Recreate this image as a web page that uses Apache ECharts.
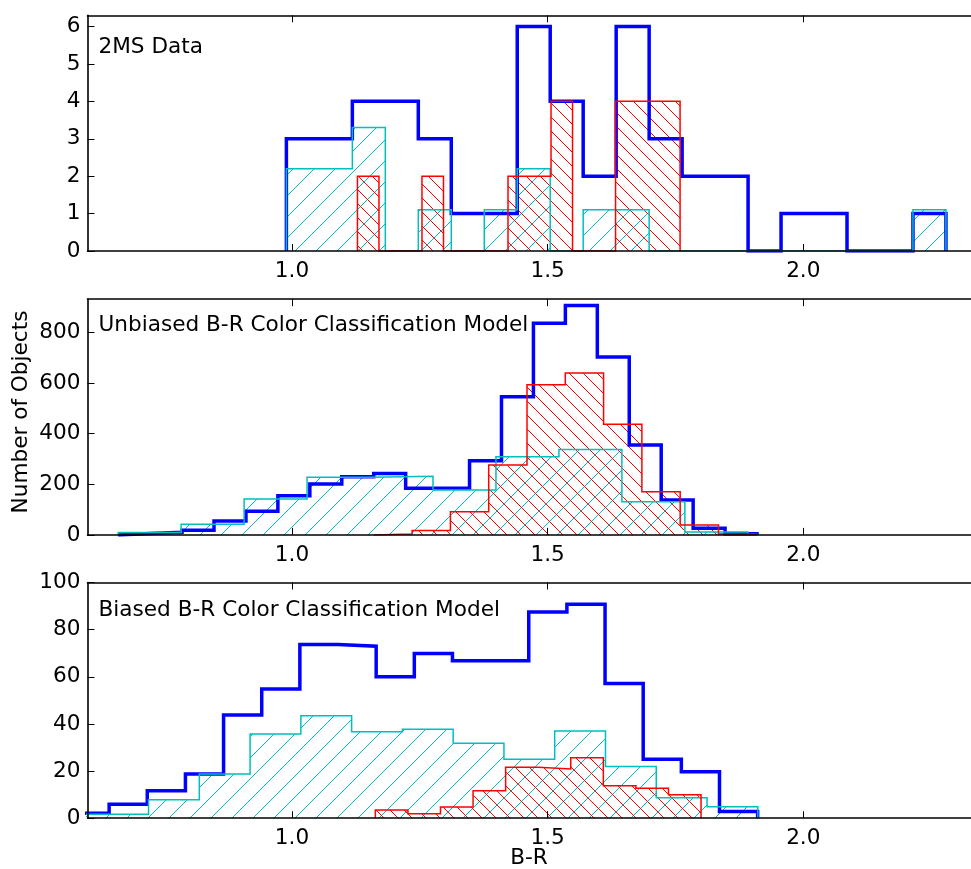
<!DOCTYPE html>
<html><head><meta charset="utf-8">
<script src="https://cdn.jsdelivr.net/npm/echarts@6/dist/echarts.min.js"></script>
<style>html,body{margin:0;padding:0;background:#fff}#c{width:971px;height:869px}</style>
</head><body><div id="c"></div>
<script>
// ---------- data (histogram bin ranges [first edge, last edge] and counts) ----------
// Panel 1: 2MS Data
const p1BlueRange = [0.989, 2.279];
const p1Blue = [3, 3, 4, 4, 3, 1, 1, 6, 4, 2, 6, 3, 2, 2, 0, 1, 1, 0, 0, 1];
const p1CyanRange = [0.989, 2.279];
const p1Cyan = [2.2, 2.2, 3.3, 0, 1.1, 0, 1.1, 2.2, 0, 1.1, 1.1, 0, 0, 0, 0, 0, 0, 0, 0, 1.1];
const p1RedRange = [1.128, 1.759];
const p1Red = [2, 0, 0, 2, 0, 0, 0, 2, 2, 4, 0, 0, 4, 4, 4];

// Panel 2: Unbiased model
const p2BlueRange = [0.660, 1.9095];
const p2Blue = [6, 10, 18, 55, 94, 155, 201, 230, 243, 184, 184, 293, 546, 837, 907, 703, 355, 138, 26, 5];
const p2CyanRange = [0.660, 1.8915];
const p2Cyan = [9, 42, 142, 228, 232, 178, 309, 338, 131, 11];
const p2RedRange = [1.160, 1.909];
const p2Red = [4, 17, 92, 276, 594, 640, 438, 171, 39, 4];

// Panel 3: Biased model
const p3BlueRange = [0.5677, 1.9107];
const p3Blue = [2.1, 5.9, 11.6, 18.7, 43.8, 54.8, 73.7, 73.0, 60.0, 69.9, 66.8, 66.8, 87.5, 90.8, 57.2, 25.0, 19.7, 2.8];
const p3CyanRange = [0.5208, 1.911];
const p3Cyan = [1.7, 1.7, 7.8, 18.7, 35.7, 43.5, 36.7, 37.7, 31.8, 25.0, 37.0, 21.9, 8.7, 4.9];
const p3RedRange = [1.163, 1.800];
const p3Red = [3.5, 1.9, 4.7, 11.6, 21.6, 20.9, 25.7, 13.8, 12.7, 9.9];

// axes
const xRange = [0.6, 2.328];
const xTicks = [1.0, 1.5, 2.0];
const p1YMax = 6.3, p1YTicks = [0, 1, 2, 3, 4, 5, 6];
const p2YMax = 932, p2YTicks = [0, 200, 400, 600, 800];
const p3YMax = 100, p3YTicks = [0, 20, 40, 60, 80, 100];

const panelTitles = ['2MS Data', 'Unbiased B-R Color Classification Model', 'Biased B-R Color Classification Model'];
const yLabel = 'Number of Objects';
const xLabel = 'B-R';

// ---------- helpers ----------
const FONT = "'DejaVu Sans', sans-serif";
const FS = 21.6;
const BLUE = '#0000ff', CYAN = '#00bfbf', RED = '#ff0000';

function makeHatch(color, size, dir) {
  const c = document.createElement('canvas');
  c.width = size; c.height = size;
  const g = c.getContext('2d');
  g.strokeStyle = color; g.lineWidth = 1;
  g.beginPath();
  if (dir === '/') {
    g.moveTo(-2, size + 2); g.lineTo(size + 2, -2);
    g.moveTo(-2, 2); g.lineTo(2, -2);
    g.moveTo(size - 2, size + 2); g.lineTo(size + 2, size - 2);
  } else {
    g.moveTo(-2, -2); g.lineTo(size + 2, size + 2);
    g.moveTo(size - 2, -2); g.lineTo(size + 2, 2);
    g.moveTo(-2, size - 2); g.lineTo(2, size + 2);
  }
  g.stroke();
  return { image: c, repeat: 'repeat' };
}
const cyanHatch = makeHatch(CYAN, 21, '/');
const redHatch = makeHatch(RED, 14, '\\');

function steps(range, counts) {
  const n = counts.length, w = (range[1] - range[0]) / n;
  const pts = [[range[0], 0]];
  for (let i = 0; i < n; i++) {
    const a = range[0] + i * w, b = range[0] + (i + 1) * w;
    pts.push([a, counts[i]], [b, counts[i]]);
  }
  pts.push([range[1], 0]);
  return pts;
}

const tops = [15.3, 299.2, 582.5];
const H = 235.7;
const grids = tops.map(t => ({ left: 87.5, top: t, width: 884.5, height: H }));

const AX_W = 1.6;
const xAxes = [], yAxes = [];
const yConf = [[p1YMax, p1YTicks], [p2YMax, p2YTicks], [p3YMax, p3YTicks]];
for (let i = 0; i < 3; i++) {
  xAxes.push({
    type: 'value', gridIndex: i, min: xRange[0], max: xRange[1], position: 'bottom', z: 5,
    axisLine: { show: true, onZero: false, lineStyle: { color: '#000', width: AX_W } },
    axisTick: { show: true, inside: true, length: 7, customValues: xTicks, lineStyle: { color: '#000', width: 1 } },
    axisLabel: { show: true, customValues: xTicks, formatter: v => v.toFixed(1), color: '#000', fontSize: FS, fontFamily: FONT, margin: 9 },
    splitLine: { show: false }
  });
  xAxes.push({
    type: 'value', gridIndex: i, min: xRange[0], max: xRange[1], position: 'top', z: 5,
    axisLine: { show: true, onZero: false, lineStyle: { color: '#000', width: AX_W } },
    axisTick: { show: true, inside: true, length: 7, customValues: xTicks, lineStyle: { color: '#000', width: 1 } },
    axisLabel: { show: false },
    splitLine: { show: false }
  });
  yAxes.push({
    type: 'value', gridIndex: i, min: 0, max: yConf[i][0], z: 5,
    axisLine: { show: true, onZero: false, lineStyle: { color: '#000', width: AX_W } },
    axisTick: { show: true, inside: true, length: 7, customValues: yConf[i][1], lineStyle: { color: '#000', width: 1 } },
    axisLabel: { show: true, customValues: yConf[i][1], color: '#000', fontSize: FS, fontFamily: FONT, margin: 7 },
    splitLine: { show: false }
  });
}

function histSeries(panel, range, counts, color, width, hatch) {
  const s = {
    type: 'line', xAxisIndex: panel * 2, yAxisIndex: panel, z: 2,
    data: steps(range, counts), symbol: 'none', silent: true, animation: false,
    lineStyle: { color: color, width: width, join: 'miter', cap: 'butt' },
    clip: true
  };
  if (hatch) s.areaStyle = { color: hatch, opacity: 1, origin: 'start' };
  return s;
}

const series = [
  histSeries(0, p1BlueRange, p1Blue, BLUE, 3.5, null),
  histSeries(0, p1CyanRange, p1Cyan, CYAN, 1.5, cyanHatch),
  histSeries(0, p1RedRange, p1Red, RED, 1.5, redHatch),
  histSeries(1, p2BlueRange, p2Blue, BLUE, 3.5, null),
  histSeries(1, p2CyanRange, p2Cyan, CYAN, 1.5, cyanHatch),
  histSeries(1, p2RedRange, p2Red, RED, 1.5, redHatch),
  histSeries(2, p3BlueRange, p3Blue, BLUE, 3.5, null),
  histSeries(2, p3CyanRange, p3Cyan, CYAN, 1.5, cyanHatch),
  histSeries(2, p3RedRange, p3Red, RED, 1.5, redHatch)
];

const titleY = [47.5, 325.5, 610.5];
const graphic = panelTitles.map((t, i) => ({
  type: 'text', x: 98.5, y: titleY[i],
  style: { text: t, font: FS + 'px ' + FONT, fill: '#000', align: 'left', verticalAlign: 'middle' }
}));
graphic.push({
  type: 'text', x: 21, y: 412, rotation: Math.PI / 2,
  style: { text: yLabel, font: FS + 'px ' + FONT, fill: '#000', align: 'center', verticalAlign: 'middle' }
});
graphic.push({
  type: 'text', x: 529, y: 858,
  style: { text: xLabel, font: FS + 'px ' + FONT, fill: '#000', align: 'center', verticalAlign: 'middle' }
});

const chart = echarts.init(document.getElementById('c'), null, { renderer: 'canvas' });
chart.setOption({
  animation: false,
  backgroundColor: '#fff',
  grid: grids,
  xAxis: xAxes,
  yAxis: yAxes,
  series: series,
  graphic: graphic
});
</script></body></html>
